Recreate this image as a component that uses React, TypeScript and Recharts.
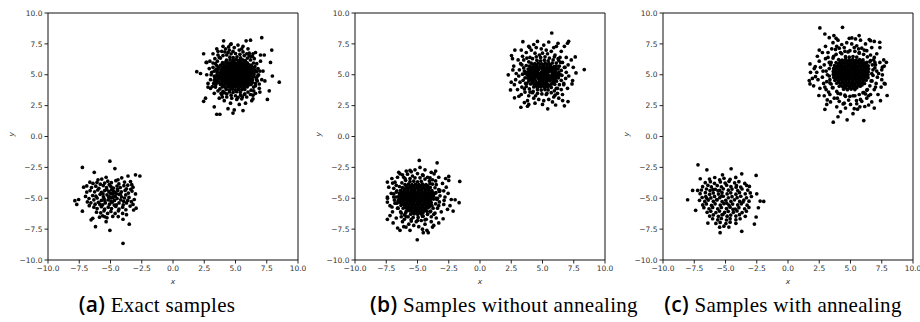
import React from 'react';
import { ScatterChart, Scatter, XAxis, YAxis, ReferenceArea } from 'recharts';

type Pt = [number, number];

const axisTicks = [-10, -7.5, -5, -2.5, 0, 2.5, 5, 7.5, 10];

const captions = [
  { tag: '(a)', text: 'Exact samples' },
  { tag: '(b)', text: 'Samples without annealing' },
  { tag: '(c)', text: 'Samples with annealing' },
];

// (a) exact samples, upper mode
const exactTop: Pt[] = [
  [4.55,6.42],[4.82,6.38],[5.12,6.45],[5.41,6.36],
  [4.28,6.18],[4.57,6.22],[4.83,6.16],[5.06,6.24],[5.31,6.17],[5.57,6.21],[5.78,6.15],
  [3.96,5.98],[4.22,6.03],[4.47,5.96],[4.71,6.02],[4.97,5.97],[5.22,6.04],[5.46,5.98],[5.71,6.01],[5.94,5.96],
  [3.81,5.79],[4.06,5.83],[4.31,5.77],[4.56,5.82],[4.81,5.78],[5.04,5.84],[5.29,5.79],[5.56,5.83],[5.81,5.77],[6.04,5.82],[6.26,5.78],
  [3.66,5.61],[3.91,5.57],[4.16,5.63],[4.41,5.58],[4.66,5.62],[4.91,5.56],[5.16,5.61],[5.41,5.57],[5.66,5.63],[5.91,5.58],[6.14,5.62],[6.36,5.59],
  [3.61,5.41],[3.86,5.38],[4.11,5.43],[4.36,5.37],[4.61,5.42],[4.86,5.39],[5.11,5.41],[5.36,5.36],[5.61,5.42],[5.86,5.38],[6.11,5.43],[6.34,5.39],
  [3.54,5.21],[3.79,5.18],[4.04,5.23],[4.29,5.17],[4.54,5.22],[4.79,5.19],[5.04,5.21],[5.29,5.16],[5.54,5.22],[5.79,5.18],[6.04,5.23],[6.29,5.19],[6.49,5.21],
  [3.52,5.01],[3.76,4.98],[4.01,5.03],[4.26,4.97],[4.51,5.02],[4.76,4.99],[5.01,5.01],[5.26,4.96],[5.51,5.02],[5.76,4.98],[6.01,5.03],[6.26,4.99],[6.48,5.02],
  [3.55,4.81],[3.79,4.78],[4.04,4.83],[4.29,4.77],[4.54,4.82],[4.79,4.79],[5.04,4.81],[5.29,4.76],[5.54,4.82],[5.79,4.78],[6.04,4.83],[6.29,4.79],[6.47,4.82],
  [3.61,4.61],[3.86,4.58],[4.11,4.63],[4.36,4.57],[4.61,4.62],[4.86,4.59],[5.11,4.61],[5.36,4.56],[5.61,4.62],[5.86,4.58],[6.11,4.63],[6.36,4.59],
  [3.66,4.41],[3.91,4.38],[4.16,4.43],[4.41,4.37],[4.66,4.42],[4.91,4.39],[5.16,4.41],[5.41,4.36],[5.66,4.42],[5.91,4.38],[6.16,4.43],[6.34,4.39],
  [3.79,4.21],[4.04,4.18],[4.29,4.23],[4.54,4.17],[4.79,4.22],[5.04,4.19],[5.29,4.21],[5.54,4.16],[5.79,4.22],[6.04,4.18],[6.24,4.22],
  [3.94,4.01],[4.19,3.98],[4.44,4.03],[4.69,3.97],[4.94,4.02],[5.19,3.99],[5.44,4.01],[5.69,3.96],[5.94,4.02],
  [4.26,3.81],[4.51,3.78],[4.76,3.83],[5.01,3.77],[5.26,3.82],[5.51,3.79],[5.74,3.81],
  [4.52,3.61],[4.81,3.58],[5.09,3.63],[5.38,3.59],
  [4.35,5.9],[4.6,5.9],[4.85,5.9],[5.1,5.9],[5.35,5.9],[5.6,5.9],[5.85,5.9],
  [4.1,5.7],[4.35,5.7],[4.6,5.7],[4.85,5.7],[5.1,5.7],[5.35,5.7],[5.6,5.7],[5.85,5.7],[6.1,5.7],
  [3.98,5.5],[4.23,5.5],[4.48,5.5],[4.73,5.5],[4.98,5.5],[5.23,5.5],[5.48,5.5],[5.73,5.5],[5.98,5.5],[6.2,5.5],
  [3.92,5.3],[4.17,5.3],[4.42,5.3],[4.67,5.3],[4.92,5.3],[5.17,5.3],[5.42,5.3],[5.67,5.3],[5.92,5.3],[6.17,5.3],
  [3.9,5.1],[4.15,5.1],[4.4,5.1],[4.65,5.1],[4.9,5.1],[5.15,5.1],[5.4,5.1],[5.65,5.1],[5.9,5.1],[6.15,5.1],
  [3.9,4.9],[4.15,4.9],[4.4,4.9],[4.65,4.9],[4.9,4.9],[5.15,4.9],[5.4,4.9],[5.65,4.9],[5.9,4.9],[6.15,4.9],
  [3.98,4.7],[4.23,4.7],[4.48,4.7],[4.73,4.7],[4.98,4.7],[5.23,4.7],[5.48,4.7],[5.73,4.7],[5.98,4.7],[6.2,4.7],
  [4.1,4.5],[4.35,4.5],[4.6,4.5],[4.85,4.5],[5.1,4.5],[5.35,4.5],[5.6,4.5],[5.85,4.5],[6.1,4.5],
  [4.23,4.3],[4.48,4.3],[4.73,4.3],[4.98,4.3],[5.23,4.3],[5.48,4.3],[5.73,4.3],[5.98,4.3],
  [4.45,4.1],[4.7,4.1],[4.95,4.1],[5.2,4.1],[5.45,4.1],[5.7,4.1],
  [3.3,5.3],[3.35,4.75],[3.42,4.2],[3.5,5.75],[3.55,6.1],[3.8,6.35],[4.0,6.55],[4.3,6.6],[4.65,6.7],[5.0,6.72],
  [5.35,6.65],[5.7,6.55],[5.95,6.35],[6.2,6.2],[6.45,5.95],[6.55,5.65],[6.7,5.25],[6.68,4.6],[6.58,4.3],[6.45,4.0],
  [6.25,3.75],[6.0,3.6],[5.75,3.45],[5.4,3.35],[5.0,3.3],[4.65,3.35],[4.3,3.45],[4.0,3.65],[3.75,3.85],[3.5,4.35],
  [3.15,4.05],[3.05,5.0],[3.2,5.95],[3.6,6.9],[4.45,7.25],[5.5,7.1],[6.35,6.5],[6.95,5.3],[6.9,4.25],[6.4,3.35],
  [5.2,3.15],[3.95,3.2],[3.3,4.55],[4.8,6.9],[6.1,6.55],[6.8,4.95],[3.85,3.5],[5.55,3.2],[4.15,6.85],[3.45,5.45],
  [3.2,5.6],[3.3,4.9],[3.25,4.3],[3.4,5.9],[3.35,6.3],[3.6,6.6],[3.9,6.9],[4.2,7.1],[4.5,7.0],[4.9,7.2],
  [5.3,7.0],[5.6,6.85],[5.9,6.7],[6.2,6.5],[6.5,6.3],[6.7,5.9],[6.8,5.5],[6.85,5.0],[6.75,4.5],[6.6,4.1],
  [6.45,3.7],[6.2,3.4],[5.9,3.2],[5.5,3.05],[5.1,3.0],[4.7,3.1],[4.3,3.2],[3.9,3.4],[3.6,3.7],[3.4,4.0],
  [3.1,5.2],[3.0,4.6],[2.9,5.5],[3.0,3.9],[2.95,6.1],[3.5,7.1],[4.0,7.3],[4.6,7.45],[5.2,7.4],[5.6,7.3],
  [6.0,7.1],[6.6,6.8],[7.0,6.1],[7.2,5.3],[7.1,4.6],[6.9,3.9],[6.6,3.5],[6.3,2.9],[5.8,2.7],[5.3,2.6],
  [4.6,2.7],[4.1,2.9],[3.7,3.1],[3.3,3.5],[2.8,4.3],[2.7,5.0],[3.75,5.0],[6.55,5.4],[3.45,4.55],[6.7,4.8],
  [4.4,6.8],[5.7,3.4],[4.1,3.55],[6.1,6.75],[3.7,6.4],[2.7,6.0],[7.3,6.6],
  [7.1,8.0],[7.9,7.0],[8.5,4.4],[7.95,4.9],[7.8,6.0],[7.7,3.7],[7.55,3.0],[1.9,5.25],[2.2,5.1],[2.45,6.7],
  [2.45,2.85],[2.6,3.1],[3.3,2.4],[3.5,1.8],[4.05,7.75],[4.8,1.9],[4.9,2.15],[5.6,2.1],[5.85,7.75],[6.2,7.8],
  [3.75,1.8],[4.4,2.25],[3.2,6.7],[2.65,6.0],[2.8,4.0],[4.65,7.5],[6.4,6.7],[7.0,6.6],[7.35,4.5],[6.95,3.6],[6.4,3.05],
];

// (a) exact samples, lower mode
const exactBottom: Pt[] = [
  [-7.25,-2.5],[-5.05,-2.0],[-4.65,-2.6],[-2.65,-3.2],[-3.0,-3.1],[-3.6,-3.2],[-3.4,-3.65],[-7.85,-5.2],[-7.55,-5.1],[-7.7,-5.5],
  [-7.25,-6.05],[-6.2,-7.3],[-5.05,-7.6],[-4.0,-8.65],[-3.5,-7.1],[-2.95,-5.8],[-3.15,-5.95],[-3.0,-4.65],[-3.2,-4.1],[-6.65,-3.7],
  [-6.3,-2.9],[-7.15,-4.1],[-6.9,-4.0],[-6.55,-6.75],[-4.0,-6.7],[-5.35,-6.9],[-5.45,-6.5],
  [-6.4,-3.8],[-6.08,-3.72],[-5.81,-3.86],[-5.47,-3.77],[-5.22,-3.62],[-4.93,-3.74],[-4.57,-3.58],[-4.33,-3.84],[-3.88,-3.69],[-3.62,-3.94],
  [-6.52,-4.13],[-6.18,-4.02],[-5.93,-4.19],[-5.58,-3.97],[-5.32,-4.14],[-4.98,-4.03],[-4.77,-4.18],[-4.48,-4.01],[-4.22,-4.13],[-3.93,-3.98],[-3.72,-4.24],[-3.38,-4.27],
  [-6.63,-4.38],[-6.27,-4.48],[-6.02,-4.33],[-5.73,-4.53],[-5.47,-4.38],[-5.13,-4.47],[-4.92,-4.32],[-4.63,-4.53],[-4.42,-4.37],[-4.13,-4.48],[-3.83,-4.37],[-3.57,-4.58],[-3.28,-4.42],
  [-6.43,-4.78],[-6.17,-4.83],[-5.83,-4.68],[-5.57,-4.88],[-5.28,-4.72],[-5.07,-4.88],[-4.83,-4.67],[-4.62,-4.83],[-4.33,-4.68],[-4.12,-4.88],[-3.78,-4.73],[-3.52,-4.93],
  [-6.72,-5.02],[-6.33,-5.13],[-6.07,-4.98],[-5.73,-5.18],[-5.52,-5.03],[-5.18,-5.13],[-4.97,-4.97],[-4.68,-5.18],[-4.47,-5.02],[-4.18,-5.13],[-3.88,-4.98],[-3.62,-5.18],[-3.33,-5.28],
  [-6.57,-5.37],[-6.23,-5.48],[-5.97,-5.33],[-5.63,-5.53],[-5.42,-5.38],[-5.08,-5.48],[-4.87,-5.32],[-4.53,-5.53],[-4.32,-5.38],[-3.98,-5.53],[-3.72,-5.38],[-3.43,-5.63],
  [-6.33,-5.72],[-6.07,-5.83],[-5.73,-5.68],[-5.47,-5.88],[-5.18,-5.72],[-4.92,-5.83],[-4.58,-5.67],[-4.32,-5.88],[-4.03,-5.72],[-3.77,-5.93],
  [-6.12,-6.13],[-5.78,-6.18],[-5.52,-6.02],[-5.23,-6.23],[-4.97,-6.07],[-4.63,-6.23],[-4.37,-6.02],[-4.03,-6.23],[-3.72,-6.33],
  [-5.88,-6.53],[-5.62,-6.42],[-5.28,-6.58],[-4.82,-6.47],[-4.38,-6.48],[-6.42,-6.62],
  [-5.0,-4.6],[-4.8,-4.95],[-4.75,-4.45],[-5.15,-4.9],[-4.55,-4.6],[-5.3,-4.3],[-4.95,-5.25],[-4.45,-4.25],[-5.6,-4.65],[-4.2,-4.65],
  [-5.45,-5.2],[-4.7,-5.55],[-5.85,-5.5],[-3.95,-5.25],[-4.85,-4.2],[-5.1,-3.9],[-4.4,-3.5],[-5.7,-3.45],[-6.0,-3.5],[-4.1,-3.35],
  [-5.35,-3.3],[-6.7,-5.6],[-6.9,-4.5],[-6.85,-5.3],[-3.1,-5.1],[-3.2,-5.5],[-3.3,-3.9],[-7.0,-4.85],
];

// (b) without annealing, upper mode
const plainTop: Pt[] = [
  [4.55,6.17],[4.85,6.13],[5.15,6.18],[5.45,6.12],
  [4.1,5.94],[4.38,5.9],[4.66,5.95],[4.94,5.89],[5.22,5.93],[5.5,5.91],[5.78,5.95],
  [3.95,5.7],[4.23,5.66],[4.51,5.71],[4.79,5.67],[5.07,5.7],[5.35,5.65],[5.63,5.69],[5.91,5.66],[6.1,5.7],
  [3.85,5.46],[4.13,5.43],[4.41,5.47],[4.69,5.42],[4.97,5.46],[5.25,5.44],[5.53,5.47],[5.81,5.42],[6.09,5.45],[6.25,5.48],
  [3.8,5.22],[4.08,5.18],[4.36,5.21],[4.64,5.17],[4.92,5.22],[5.2,5.19],[5.48,5.23],[5.76,5.18],[6.04,5.21],[6.3,5.19],
  [3.78,4.97],[4.06,4.94],[4.34,4.98],[4.62,4.95],[4.9,4.97],[5.18,4.93],[5.46,4.98],[5.74,4.95],[6.02,4.96],[6.28,4.94],
  [3.82,4.73],[4.1,4.7],[4.38,4.74],[4.66,4.71],[4.94,4.73],[5.22,4.69],[5.5,4.74],[5.78,4.7],[6.06,4.72],[6.27,4.75],
  [3.9,4.49],[4.18,4.46],[4.46,4.5],[4.74,4.47],[5.02,4.49],[5.3,4.45],[5.58,4.5],[5.86,4.46],[6.12,4.48],
  [4.05,4.25],[4.33,4.22],[4.61,4.26],[4.89,4.23],[5.17,4.25],[5.45,4.21],[5.73,4.26],[5.98,4.23],
  [4.3,4.01],[4.58,3.98],[4.86,4.02],[5.14,3.99],[5.42,4.01],[5.7,3.97],
  [4.6,3.79],[4.9,3.76],[5.2,3.8],[5.45,3.77],
  [4.24,5.8],[4.52,5.81],[4.8,5.79],[5.08,5.82],[5.36,5.78],[5.64,5.8],
  [4.04,5.56],[4.32,5.57],[4.6,5.55],[4.88,5.58],[5.16,5.55],[5.44,5.57],[5.72,5.56],[5.98,5.58],
  [3.97,5.33],[4.25,5.32],[4.53,5.34],[5.09,5.33],[5.37,5.31],[5.65,5.34],[5.93,5.32],
  [3.92,5.09],[4.2,5.08],[4.48,5.1],[4.76,5.07],[5.04,5.09],[5.32,5.1],[5.88,5.08],[6.14,5.09],
  [3.94,4.85],[4.22,4.84],[4.5,4.86],[4.78,4.83],[5.06,4.85],[5.34,4.86],[5.62,4.84],[5.9,4.85],[6.16,4.84],
  [4.0,4.6],[4.28,4.61],[4.84,4.59],[5.12,4.6],[5.4,4.62],[5.68,4.59],[5.96,4.61],
  [4.2,4.37],[4.48,4.36],[4.76,4.38],[5.04,4.37],[5.32,4.36],[5.88,4.38],
  [4.45,4.13],[4.73,4.12],[5.01,4.14],[5.29,4.12],[5.57,4.13],
  [3.55,5.3],[3.6,4.75],[3.65,4.3],[3.7,5.75],[3.9,6.05],[4.2,6.3],[4.5,6.45],[4.85,6.4],[5.2,6.45],[5.55,6.35],
  [5.85,6.2],[6.1,5.95],[6.35,5.7],[6.5,5.35],[6.55,4.95],[6.5,4.55],[6.35,4.2],[6.2,3.9],[5.95,3.7],[5.7,3.55],
  [5.35,3.5],[4.95,3.45],[4.6,3.5],[4.25,3.65],[3.95,3.85],[3.7,4.05],[3.45,4.55],[3.4,5.05],[3.5,5.55],[3.75,6.35],
  [4.4,6.75],[5.4,6.7],[6.25,6.3],[6.75,5.6],[6.7,4.3],[6.0,3.35],[4.45,3.3],[3.55,3.85],[3.35,5.8],[5.0,6.75],
  [6.45,6.0],[4.0,3.6],
  [3.4,6.5],[3.7,6.8],[4.1,7.0],[4.5,7.2],[4.9,7.1],[5.3,7.0],[5.7,6.9],[6.0,6.6],[6.4,6.4],[6.6,6.0],
  [6.8,5.6],[6.9,5.2],[6.85,4.7],[6.7,4.2],[6.5,3.8],[6.2,3.5],[5.9,3.2],[5.5,3.0],[5.1,2.9],[4.7,3.0],
  [4.3,3.1],[3.9,3.3],[3.6,3.6],[3.35,4.0],[3.2,4.4],[3.1,4.9],[3.15,5.4],[3.25,5.9],[3.05,6.2],[2.9,5.1],
  [2.85,4.6],[3.0,3.8],[3.3,3.4],[3.8,2.9],[4.4,2.7],[5.0,2.6],[5.8,2.8],[6.3,3.1],[6.6,3.4],[7.0,3.9],
  [7.1,4.9],[7.05,5.8],[6.9,6.4],[6.5,6.9],[5.9,7.2],[5.1,7.4],[4.3,7.45],[3.9,7.3],[3.3,7.0],[2.7,5.7],
  [2.75,4.2],[3.6,5.1],[6.45,5.0],[4.0,6.4],[6.1,3.9],[3.75,4.3],[6.3,6.15],[5.95,6.45],[4.2,3.55],[3.5,6.2],
  [5.3,3.4],[4.75,6.6],[2.6,6.3],[3.9,2.6],[6.05,2.55],[7.3,6.2],[6.75,7.3],[4.6,7.7],[5.5,7.65],[3.55,2.75],[2.5,4.4],
  [5.74,8.38],[7.09,7.71],[7.0,7.55],[7.62,6.44],[7.68,5.15],[8.34,5.42],[7.46,5.6],[3.43,7.68],[2.79,7.0],[2.52,6.55],
  [2.26,4.99],[2.44,3.77],[2.76,3.13],[3.27,2.37],[3.8,2.45],[5.42,2.24],[6.75,2.48],[7.04,2.83],[7.36,4.26],[7.41,4.53],
  [6.24,7.55],[6.11,7.3],[3.96,7.22],[2.63,5.39],[3.11,3.26],[6.61,2.91],
];

// (b) without annealing, lower mode
const plainBottom: Pt[] = [
  [-5.6,-3.65],[-5.3,-3.62],[-5.0,-3.67],[-4.7,-3.63],
  [-6.0,-3.89],[-5.72,-3.86],[-5.44,-3.9],[-5.16,-3.87],[-4.88,-3.89],[-4.6,-3.85],[-4.32,-3.9],
  [-6.2,-4.13],[-5.92,-4.1],[-5.64,-4.14],[-5.36,-4.11],[-5.08,-4.13],[-4.8,-4.09],[-4.52,-4.14],[-4.24,-4.1],[-3.98,-4.12],
  [-6.35,-4.37],[-6.07,-4.34],[-5.79,-4.38],[-5.51,-4.35],[-5.23,-4.37],[-4.95,-4.33],[-4.67,-4.38],[-4.39,-4.34],[-4.11,-4.36],[-3.85,-4.39],
  [-6.45,-4.61],[-6.17,-4.58],[-5.89,-4.62],[-5.61,-4.59],[-5.33,-4.61],[-5.05,-4.57],[-4.77,-4.62],[-4.49,-4.58],[-4.21,-4.6],[-3.93,-4.63],[-3.75,-4.59],
  [-6.5,-4.85],[-6.22,-4.82],[-5.94,-4.86],[-5.66,-4.83],[-5.38,-4.85],[-5.1,-4.81],[-4.82,-4.86],[-4.54,-4.82],[-4.26,-4.84],[-3.98,-4.87],[-3.72,-4.83],
  [-6.48,-5.09],[-6.2,-5.06],[-5.92,-5.1],[-5.64,-5.07],[-5.36,-5.09],[-5.08,-5.05],[-4.8,-5.1],[-4.52,-5.06],[-4.24,-5.08],[-3.96,-5.11],[-3.72,-5.07],
  [-6.42,-5.33],[-6.14,-5.3],[-5.86,-5.34],[-5.58,-5.31],[-5.3,-5.33],[-5.02,-5.29],[-4.74,-5.34],[-4.46,-5.3],[-4.18,-5.32],[-3.9,-5.35],
  [-6.32,-5.57],[-6.04,-5.54],[-5.76,-5.58],[-5.48,-5.55],[-5.2,-5.57],[-4.92,-5.53],[-4.64,-5.58],[-4.36,-5.54],[-4.08,-5.56],[-3.85,-5.59],
  [-6.15,-5.81],[-5.87,-5.78],[-5.59,-5.82],[-5.31,-5.79],[-5.03,-5.81],[-4.75,-5.77],[-4.47,-5.82],[-4.19,-5.78],
  [-5.9,-6.05],[-5.62,-6.02],[-5.34,-6.06],[-5.06,-6.03],[-4.78,-6.05],[-4.5,-6.01],[-4.25,-6.06],
  [-5.55,-6.29],[-5.27,-6.26],[-4.99,-6.3],[-4.71,-6.27],
  [-5.86,-4.0],[-5.58,-4.01],[-5.3,-3.99],[-5.02,-4.0],[-4.74,-4.01],[-4.46,-3.99],[-4.18,-4.0],
  [-6.06,-4.25],[-5.78,-4.24],[-5.5,-4.26],[-5.22,-4.25],[-4.94,-4.24],[-4.66,-4.26],[-4.38,-4.25],[-4.1,-4.24],
  [-6.3,-4.49],[-6.03,-4.5],[-5.75,-4.48],[-5.47,-4.49],[-5.19,-4.5],[-4.91,-4.48],[-4.63,-4.49],[-4.35,-4.5],[-4.07,-4.48],[-3.84,-4.49],
  [-6.34,-4.73],[-6.06,-4.72],[-5.78,-4.74],[-5.5,-4.73],[-5.22,-4.72],[-4.94,-4.74],[-4.66,-4.73],[-4.38,-4.72],[-4.1,-4.74],[-3.85,-4.73],
  [-6.36,-4.97],[-6.08,-4.98],[-5.8,-4.96],[-5.52,-4.97],[-5.24,-4.98],[-4.96,-4.96],[-4.68,-4.97],[-4.4,-4.98],[-4.12,-4.96],[-3.86,-4.97],
  [-6.34,-5.21],[-6.06,-5.2],[-5.78,-5.22],[-5.5,-5.21],[-5.22,-5.2],[-4.94,-5.22],[-4.66,-5.21],[-4.38,-5.2],[-4.1,-5.22],
  [-6.2,-5.45],[-5.9,-5.46],[-5.62,-5.44],[-5.34,-5.45],[-5.06,-5.46],[-4.78,-5.44],[-4.5,-5.45],[-4.22,-5.46],[-3.97,-5.44],
  [-6.0,-5.69],[-5.73,-5.7],[-5.45,-5.68],[-5.17,-5.69],[-4.89,-5.7],[-4.61,-5.68],[-4.33,-5.69],[-4.06,-5.7],
  [-5.75,-5.93],[-5.48,-5.92],[-5.2,-5.94],[-4.92,-5.93],[-4.64,-5.92],[-4.36,-5.94],
  [-5.4,-6.17],[-5.12,-6.18],[-4.84,-6.16],[-4.56,-6.17],
  [-6.65,-4.4],[-6.7,-4.9],[-6.65,-5.4],[-6.55,-5.8],[-6.35,-6.1],[-6.05,-6.35],[-5.75,-6.5],[-5.35,-6.55],[-4.95,-6.55],[-4.55,-6.45],
  [-4.2,-6.3],[-3.95,-6.05],[-3.75,-5.8],[-3.55,-5.45],[-3.5,-5.0],[-3.52,-4.55],[-3.6,-4.15],[-3.8,-3.85],[-4.05,-3.6],[-4.4,-3.45],
  [-4.8,-3.35],[-5.2,-3.35],[-5.6,-3.4],[-5.95,-3.55],[-6.25,-3.75],[-6.45,-4.05],[-6.9,-4.65],[-6.85,-5.15],[-6.3,-6.5],[-5.5,-6.85],
  [-4.4,-6.75],[-3.7,-6.3],[-3.3,-5.6],[-3.25,-4.45],[-3.55,-3.6],[-4.55,-3.15],[-6.1,-3.3],[-6.7,-3.95],[-5.0,-6.8],[-3.4,-5.0],
  [-6.05,-6.7],[-4.0,-3.35],
  [-6.9,-4.2],[-6.8,-3.7],[-6.6,-3.3],[-6.2,-3.1],[-5.8,-3.05],[-5.4,-3.2],[-5.0,-3.0],[-4.6,-3.1],[-4.2,-3.3],[-3.8,-3.5],
  [-3.5,-3.9],[-3.3,-4.3],[-3.2,-4.8],[-3.25,-5.3],[-3.4,-5.8],[-3.6,-6.2],[-3.9,-6.5],[-4.3,-6.7],[-4.7,-6.8],[-5.1,-6.9],
  [-5.5,-6.7],[-5.9,-6.5],[-6.3,-6.2],[-6.6,-5.8],[-6.8,-5.4],[-6.9,-4.9],[-7.1,-4.6],[-7.2,-5.6],[-7.0,-6.1],[-6.7,-6.6],
  [-6.2,-6.9],[-5.7,-7.1],[-5.3,-7.2],[-4.9,-7.3],[-4.4,-7.1],[-3.9,-6.9],[-3.5,-6.6],[-3.1,-6.1],[-2.9,-5.5],[-2.8,-4.9],
  [-2.9,-4.4],[-3.0,-3.8],[-3.3,-3.3],[-3.9,-2.9],[-4.4,-2.7],[-5.2,-2.7],[-5.9,-2.8],[-6.5,-2.9],[-7.05,-3.4],[-7.3,-4.1],
  [-7.4,-5.0],[-6.1,-7.3],[-4.6,-7.5],[-3.7,-7.2],[-2.6,-5.9],[-2.55,-4.6],[-2.7,-4.1],[-6.95,-7.0],[-6.0,-3.4],[-4.0,-3.8],
  [-3.6,-4.6],[-6.7,-4.5],[-6.55,-5.2],[-4.0,-6.1],[-5.95,-6.2],[-4.6,-6.45],[-3.45,-5.1],[-2.75,-3.4],[-3.55,-2.8],[-4.8,-2.5],
  [-5.5,-2.85],[-2.3,-5.1],[-2.4,-5.6],[-7.2,-6.4],[-6.4,-7.6],[-5.6,-7.6],[-4.25,-7.6],[-3.3,-7.0],
  [-4.86,-1.94],[-3.43,-2.13],[-2.5,-3.23],[-2.5,-3.56],[-1.62,-3.64],[-1.99,-5.12],[-1.67,-5.36],[-2.15,-6.04],[-7.41,-3.69],[-7.41,-4.9],
  [-7.41,-5.31],[-7.41,-6.71],[-6.59,-7.41],[-5.02,-8.36],[-4.54,-7.79],[-4.14,-7.79],[-3.8,-7.33],[-6.99,-3.77],[-6.4,-3.02],[-5.6,-2.75],
  [-7.04,-5.71],[-2.95,-6.66],[-2.87,-5.17],[-3.21,-4.37],[-3.67,-3.02],[-5.92,-7.33],
];

// (c) with annealing, upper mode
const annealTop: Pt[] = [
  [4.6,6.46],[4.9,6.42],[5.2,6.47],[5.5,6.43],
  [4.05,6.23],[4.33,6.19],[4.61,6.24],[4.89,6.2],[5.17,6.22],[5.45,6.18],[5.73,6.23],[6.0,6.2],
  [3.85,5.99],[4.13,5.95],[4.41,6.0],[4.69,5.96],[4.97,5.98],[5.25,5.94],[5.53,5.99],[5.81,5.96],[6.09,5.97],[6.3,6.0],
  [3.72,5.75],[4.0,5.71],[4.28,5.76],[4.56,5.72],[4.84,5.74],[5.12,5.7],[5.4,5.75],[5.68,5.72],[5.96,5.73],[6.24,5.76],[6.42,5.72],
  [3.65,5.51],[3.93,5.47],[4.21,5.52],[4.49,5.48],[4.77,5.5],[5.05,5.46],[5.33,5.51],[5.61,5.48],[5.89,5.49],[6.17,5.52],[6.45,5.48],
  [3.62,5.27],[3.9,5.23],[4.18,5.28],[4.46,5.24],[4.74,5.26],[5.02,5.22],[5.3,5.27],[5.58,5.24],[5.86,5.25],[6.14,5.28],[6.42,5.24],
  [3.62,5.03],[3.9,4.99],[4.18,5.04],[4.46,5.0],[4.74,5.02],[5.02,4.98],[5.3,5.03],[5.58,5.0],[5.86,5.01],[6.14,5.04],[6.4,5.0],
  [3.66,4.79],[3.94,4.75],[4.22,4.8],[4.5,4.76],[4.78,4.78],[5.06,4.74],[5.34,4.79],[5.62,4.76],[5.9,4.77],[6.18,4.8],[6.4,4.76],
  [3.75,4.55],[4.03,4.51],[4.31,4.56],[4.59,4.52],[4.87,4.54],[5.15,4.5],[5.43,4.55],[5.71,4.52],[5.99,4.53],[6.25,4.56],
  [3.9,4.31],[4.18,4.27],[4.46,4.32],[4.74,4.28],[5.02,4.3],[5.3,4.26],[5.58,4.31],[5.86,4.28],[6.12,4.29],
  [4.1,4.07],[4.38,4.03],[4.66,4.08],[4.94,4.04],[5.22,4.06],[5.5,4.02],[5.78,4.07],
  [4.45,3.83],[4.75,3.79],[5.05,3.84],[5.35,3.8],
  [4.19,6.1],[4.47,6.11],[4.75,6.09],[5.03,6.1],[5.31,6.11],[5.59,6.09],[5.87,6.1],
  [3.99,5.87],[4.27,5.86],[4.55,5.88],[4.83,5.87],[5.11,5.86],[5.39,5.88],[5.67,5.87],[5.95,5.86],[6.2,5.88],
  [3.86,5.63],[4.14,5.64],[4.42,5.62],[4.7,5.63],[4.98,5.64],[5.26,5.62],[5.54,5.63],[5.82,5.64],[6.1,5.62],[6.33,5.63],
  [3.76,5.39],[4.04,5.38],[4.32,5.4],[4.6,5.39],[4.88,5.38],[5.16,5.4],[5.44,5.39],[5.72,5.38],[6.0,5.4],[6.28,5.39],
  [3.76,5.15],[4.04,5.16],[4.32,5.14],[4.6,5.15],[4.88,5.16],[5.16,5.14],[5.44,5.15],[5.72,5.16],[6.0,5.14],[6.28,5.15],
  [3.78,4.91],[4.06,4.9],[4.34,4.92],[4.62,4.91],[4.9,4.9],[5.18,4.92],[5.46,4.91],[5.74,4.9],[6.02,4.92],[6.28,4.91],
  [3.84,4.67],[4.12,4.68],[4.4,4.66],[4.68,4.67],[4.96,4.68],[5.24,4.66],[5.52,4.67],[5.8,4.68],[6.08,4.66],
  [4.04,4.43],[4.32,4.42],[4.6,4.44],[4.88,4.43],[5.16,4.42],[5.44,4.44],[5.72,4.43],[6.0,4.42],
  [4.24,4.18],[4.52,4.19],[4.8,4.17],[5.08,4.18],[5.36,4.19],[5.64,4.17],[5.92,4.18],
  [4.6,3.95],[4.9,3.94],[5.2,3.96],[5.5,3.95],
  [3.3,5.5],[3.3,4.9],[3.35,4.35],[3.45,6.0],[3.6,6.35],[3.85,6.65],[4.2,6.8],[4.55,6.9],[4.95,6.95],[5.35,6.9],
  [5.7,6.8],[6.05,6.65],[6.35,6.45],[6.6,6.15],[6.75,5.8],[6.8,5.4],[6.8,4.95],[6.72,4.5],[6.55,4.1],[6.35,3.8],
  [6.05,3.55],[5.7,3.4],[5.35,3.3],[4.95,3.25],[4.55,3.35],[4.2,3.45],[3.9,3.65],[3.6,3.95],[3.45,4.25],[3.05,5.3],
  [3.1,4.45],[3.2,6.4],[3.8,7.05],[4.5,7.2],[5.3,7.2],[6.1,7.0],[6.9,6.4],[7.25,5.1],[7.0,4.0],[6.45,3.3],
  [5.8,3.0],[4.85,2.95],[3.95,3.1],[3.25,3.6],[2.95,4.0],[3.4,5.8],[6.95,6.0],[6.2,3.45],[4.1,7.15],[5.65,7.1],
  [3.2,6.8],[3.5,7.1],[3.9,7.3],[4.3,7.45],[4.7,7.6],[5.1,7.5],[5.5,7.35],[5.9,7.15],[6.3,6.95],[6.6,6.6],
  [6.85,6.2],[7.0,5.8],[7.1,5.3],[7.15,4.8],[7.05,4.3],[6.9,3.8],[6.6,3.4],[6.3,3.1],[5.9,2.85],[5.5,2.65],
  [5.0,2.6],[4.5,2.7],[4.1,2.85],[3.7,3.1],[3.35,3.4],[3.05,3.8],[2.85,4.3],[2.75,4.8],[2.8,5.3],[2.9,5.8],
  [3.0,6.3],[2.5,6.1],[2.3,5.2],[2.4,4.6],[2.55,3.9],[2.9,3.3],[3.4,2.8],[3.9,2.4],[4.6,2.3],[5.3,2.25],
  [6.7,2.8],[7.2,3.4],[7.45,4.0],[7.5,4.6],[7.5,5.4],[7.35,6.0],[7.1,6.7],[6.7,7.2],[6.2,7.5],[5.8,7.8],
  [4.9,7.95],[4.0,7.8],[3.6,7.6],[3.0,7.3],[2.75,6.8],[2.1,5.5],[2.05,4.1],[3.3,6.0],[3.35,4.6],[6.7,5.1],
  [6.65,4.5],[4.3,6.7],[5.7,6.75],[4.0,3.5],[6.0,3.55],[3.55,3.95],[6.55,6.05],[5.2,3.3],[4.6,3.25],[4.8,6.85],
  [3.15,5.0],[6.95,5.55],[3.65,6.5],[6.3,3.75],[2.6,5.6],[2.2,4.85],[3.1,2.6],[5.75,2.4],[6.45,2.55],[7.7,4.3],
  [7.7,5.7],[7.35,7.2],[6.9,7.7],[3.3,8.0],[3.85,7.95],[2.95,2.2],[4.2,2.0],[5.2,1.85],[4.0,1.6],[2.5,7.0],
  [2.35,6.5],[1.95,4.7],[6.9,2.3],[7.4,2.9],[1.8,5.2],[5.4,7.9],[6.5,7.85],
  [2.55,8.79],[4.36,8.84],[2.95,8.3],[3.67,8.17],[1.76,4.26],[1.7,4.53],[1.76,5.88],[2.18,5.66],[2.47,3.32],[3.14,2.96],
  [3.62,1.16],[4.73,1.35],[6.06,1.29],[6.14,2.43],[5.56,2.21],[7.93,3.32],[7.77,4.26],[7.87,6.01],[7.66,6.2],[7.34,7.63],
  [6.6,7.76],[5.69,8.17],[5.11,7.98],[7.55,4.99],[7.55,5.61],[4.41,2.64],[5.48,2.91],
];

// (c) with annealing, lower mode
const annealBottom: Pt[] = [
  [-6.28,-3.45],[-5.86,-3.32],[-5.47,-3.5],[-5.12,-3.38],[-4.63,-3.46],[-4.18,-3.31],
  [-6.62,-3.74],[-6.21,-3.66],[-5.88,-3.79],[-5.41,-3.68],[-5.03,-3.77],[-4.72,-3.63],[-4.27,-3.75],[-3.93,-3.66],[-3.46,-3.8],
  [-6.83,-4.06],[-6.41,-3.95],[-6.13,-4.08],[-5.66,-3.97],[-5.33,-4.07],[-4.91,-3.94],[-4.57,-4.05],[-4.12,-3.98],[-3.78,-4.09],[-3.31,-3.96],
  [-6.93,-4.33],[-6.52,-4.25],[-6.24,-4.38],[-5.82,-4.27],[-5.47,-4.36],[-5.18,-4.24],[-4.77,-4.35],[-4.48,-4.26],[-4.02,-4.38],[-3.68,-4.25],[-3.22,-4.34],
  [-7.03,-4.63],[-6.61,-4.55],[-6.27,-4.68],[-5.98,-4.57],[-5.56,-4.66],[-5.28,-4.54],[-4.87,-4.65],[-4.58,-4.56],[-4.17,-4.67],[-3.88,-4.55],[-3.42,-4.64],[-3.02,-4.57],
  [-6.87,-4.94],[-6.58,-4.86],[-6.17,-4.97],[-5.88,-4.85],[-5.46,-4.95],[-5.18,-4.84],[-4.77,-4.96],[-4.48,-4.87],[-4.07,-4.95],[-3.78,-4.84],[-3.32,-4.96],[-2.93,-4.86],
  [-7.08,-5.17],[-6.66,-5.26],[-6.38,-5.15],[-5.97,-5.25],[-5.68,-5.14],[-5.27,-5.27],[-4.98,-5.16],[-4.57,-5.25],[-4.28,-5.13],[-3.87,-5.26],[-3.53,-5.15],[-3.12,-5.24],
  [-6.82,-5.54],[-6.53,-5.46],[-6.12,-5.57],[-5.83,-5.45],[-5.42,-5.55],[-5.13,-5.44],[-4.72,-5.56],[-4.43,-5.47],[-4.02,-5.54],[-3.73,-5.45],[-3.27,-5.56],
  [-6.73,-5.76],[-6.32,-5.85],[-6.03,-5.74],[-5.62,-5.86],[-5.33,-5.75],[-4.92,-5.84],[-4.63,-5.73],[-4.22,-5.87],[-3.93,-5.76],[-3.47,-5.85],[-3.13,-5.74],
  [-6.47,-6.14],[-6.18,-6.05],[-5.77,-6.16],[-5.48,-6.04],[-5.07,-6.15],[-4.78,-6.06],[-4.37,-6.14],[-4.08,-6.03],[-3.67,-6.16],[-3.33,-6.05],
  [-6.27,-6.44],[-5.98,-6.35],[-5.57,-6.46],[-5.28,-6.34],[-4.87,-6.45],[-4.58,-6.36],[-4.17,-6.44],[-3.88,-6.33],[-3.42,-6.46],
  [-6.03,-6.66],[-5.62,-6.75],[-5.33,-6.64],[-4.92,-6.76],[-4.63,-6.65],[-4.17,-6.74],[-3.83,-6.66],
  [-5.77,-7.04],[-5.43,-6.96],[-4.97,-7.05],[-4.63,-6.94],[-4.17,-7.03],
  [-5.47,-7.34],[-5.13,-7.26],[-4.73,-7.33],
  [-5.6,-4.4],[-5.3,-4.8],[-4.9,-5.4],[-5.7,-5.1],[-6.0,-4.3],[-4.4,-5.9],[-5.2,-6.3],[-6.5,-5.0],[-3.6,-5.3],
  [-7.2,-2.29],[-6.49,-2.7],[-5.24,-3.1],[-4.55,-2.61],[-2.55,-3.15],[-8.03,-5.12],[-7.63,-4.37],[-7.23,-4.37],[-7.39,-5.98],[-6.41,-7.01],
  [-5.43,-7.79],[-3.7,-7.68],[-2.69,-7.09],[-1.94,-5.26],[-2.23,-5.23],[-2.37,-5.77],[-2.55,-6.52],[-2.5,-4.64],[-3.09,-4.04],[-7.02,-3.42],
  [-3.7,-3.02],[-4.15,-4.1],
];

const panels = [
  { left: 0, width: 307, top: exactTop, bottom: exactBottom },
  { left: 307, width: 307, top: plainTop, bottom: plainBottom },
  { left: 615, width: 305, top: annealTop, bottom: annealBottom },
];

const captionCenter = [157, 504, 783];

const toData = (pts: Pt[]) => pts.map(([x, y]) => ({ x, y }));
const fmt = (v: number) => v.toFixed(1).replace('-', '\u2212');

const Dot = (props: any) => <circle cx={props.cx} cy={props.cy} r={1.85} fill="#000" />;

const tickStyle = { fontSize: 7.5, fill: '#333', fontFamily: 'DejaVu Sans' };
const labelStyle = { fontSize: 7.5, fill: '#333', fontFamily: 'DejaVu Sans', fontStyle: 'italic' };

export default function App() {
  return (
    <div style={{ position: 'absolute', left: 0, top: 0, width: 920, height: 322, background: '#fff' }}>
      {panels.map((p, i) => (
        <div key={i} style={{ position: 'absolute', left: p.left, top: 0 }}>
          <ScatterChart
            width={p.width}
            height={300}
            margin={{ top: 13, right: p.width - 298, bottom: 10, left: 8 }}
          >
            <XAxis
              type="number"
              dataKey="x"
              domain={[-10, 10]}
              ticks={axisTicks}
              interval={0}
              tickFormatter={fmt}
              height={30}
              tickSize={3.5}
              tick={tickStyle}
              axisLine={false}
              tickLine={{ stroke: '#222' }}
              allowDataOverflow
              label={{ value: 'x', position: 'insideBottom', offset: 6, style: labelStyle }}
            />
            <YAxis
              type="number"
              dataKey="y"
              domain={[-10, 10]}
              ticks={axisTicks}
              interval={0}
              tickFormatter={fmt}
              width={40}
              tickSize={3.5}
              tick={tickStyle}
              axisLine={false}
              tickLine={{ stroke: '#222' }}
              allowDataOverflow
              label={{ value: 'y', angle: -90, position: 'insideLeft', offset: 3, style: labelStyle }}
            />
            <ReferenceArea x1={-10} x2={10} y1={-10} y2={10} fill="none" stroke="#111" strokeWidth={1} />
            <Scatter data={toData(p.top)} shape={Dot} isAnimationActive={false} />
            <Scatter data={toData(p.bottom)} shape={Dot} isAnimationActive={false} />
          </ScatterChart>
        </div>
      ))}
      {captions.map((c, i) => (
        <div
          key={i}
          style={{
            position: 'absolute',
            left: captionCenter[i],
            top: 293,
            transform: 'translateX(-50%)',
            whiteSpace: 'nowrap',
            lineHeight: '22px',
            fontSize: 21,
            letterSpacing: 0.3,
            color: '#000',
          }}
        >
          <span style={{ fontFamily: 'Open Sans', fontWeight: 600 }}>{c.tag}</span>{' '}
          <span style={{ fontFamily: 'Liberation Serif' }}>{c.text}</span>
        </div>
      ))}
    </div>
  );
}
